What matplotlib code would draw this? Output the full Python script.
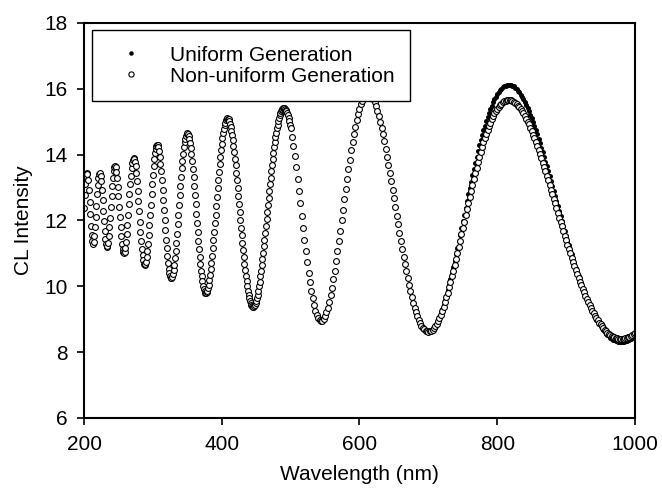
import numpy as np
import matplotlib
matplotlib.use("Agg")
import matplotlib.pyplot as plt

plt.rcParams['font.family'] = ['Liberation Sans', 'DejaVu Sans']

# wavelengths (nm): 1 nm steps where the fringes are narrow, 2 nm after that
wl_fine = np.arange(200, 501, 1)
wl_mid = np.arange(502, 701, 2)
wl_tail = np.arange(702, 1001, 2)

# CL intensity, 200-500 nm (both series overlap here)
cl_fine = [
    12.38, 12.78, 13.12, 13.35, 13.45, 13.40, 13.22, 12.93, 12.57, 12.19,
    11.84, 11.55, 11.37, 11.30, 11.36, 11.52, 11.79, 12.11, 12.45, 12.79,
    13.08, 13.30, 13.42, 13.45, 13.36, 13.19, 12.93, 12.63, 12.29, 11.97,
    11.68, 11.44, 11.28, 11.20, 11.22, 11.33, 11.52, 11.79, 12.09, 12.42,
    12.74, 13.04, 13.30, 13.49, 13.61, 13.65, 13.61, 13.48, 13.28, 13.03,
    12.73, 12.42, 12.10, 11.79, 11.52, 11.29, 11.13, 11.03, 11.00, 11.05,
    11.17, 11.35, 11.59, 11.87, 12.18, 12.49, 12.81, 13.10, 13.36, 13.58,
    13.75, 13.85, 13.90, 13.88, 13.79, 13.64, 13.44, 13.19, 12.90, 12.59,
    12.28, 11.96, 11.66, 11.38, 11.14, 10.94, 10.79, 10.69, 10.65, 10.67,
    10.75, 10.88, 11.07, 11.30, 11.56, 11.86, 12.17, 12.48, 12.80, 13.11,
    13.39, 13.64, 13.86, 14.04, 14.18, 14.26, 14.30, 14.29, 14.22, 14.10,
    13.94, 13.73, 13.49, 13.22, 12.93, 12.63, 12.32, 12.00, 11.70, 11.42,
    11.15, 10.91, 10.70, 10.53, 10.40, 10.31, 10.26, 10.25, 10.29, 10.37,
    10.50, 10.66, 10.85, 11.08, 11.33, 11.60, 11.88, 12.18, 12.47, 12.77,
    13.05, 13.33, 13.59, 13.82, 14.03, 14.22, 14.37, 14.49, 14.58, 14.63,
    14.65, 14.63, 14.57, 14.48, 14.36, 14.20, 14.01, 13.80, 13.57, 13.32,
    13.05, 12.78, 12.50, 12.21, 11.93, 11.66, 11.39, 11.14, 10.89, 10.68,
    10.47, 10.30, 10.15, 10.02, 9.92, 9.85, 9.81, 9.80, 9.82, 9.87,
    9.94, 10.05, 10.18, 10.34, 10.52, 10.71, 10.93, 11.16, 11.41, 11.66,
    11.92, 12.18, 12.45, 12.71, 12.98, 13.23, 13.47, 13.71, 13.93, 14.14,
    14.32, 14.50, 14.65, 14.78, 14.89, 14.97, 15.04, 15.08, 15.10, 15.09,
    15.07, 15.01, 14.94, 14.85, 14.73, 14.59, 14.44, 14.27, 14.08, 13.88,
    13.67, 13.45, 13.22, 12.99, 12.75, 12.50, 12.26, 12.02, 11.78, 11.55,
    11.32, 11.10, 10.88, 10.68, 10.49, 10.31, 10.15, 10.00, 9.86, 9.74,
    9.64, 9.55, 9.48, 9.43, 9.40, 9.38, 9.38, 9.40, 9.44, 9.49,
    9.56, 9.65, 9.75, 9.87, 10.00, 10.14, 10.30, 10.46, 10.64, 10.82,
    11.01, 11.21, 11.41, 11.62, 11.83, 12.04, 12.26, 12.47, 12.68, 12.89,
    13.10, 13.30, 13.50, 13.69, 13.87, 14.05, 14.22, 14.38, 14.53, 14.67,
    14.80, 14.91, 15.02, 15.11, 15.19, 15.26, 15.32, 15.36, 15.40, 15.41,
    15.42, 15.41, 15.39, 15.36, 15.32, 15.26, 15.19, 15.11, 15.02, 14.91,
    14.80,
]

# 502-700 nm, still shared
cl_mid = [
    14.55, 14.27, 13.95, 13.61, 13.26, 12.90, 12.52, 12.15, 11.77, 11.41,
    11.06, 10.73, 10.41, 10.13, 9.86, 9.63, 9.43, 9.26, 9.13, 9.04,
    8.98, 8.95, 8.96, 9.01, 9.09, 9.21, 9.35, 9.53, 9.73, 9.96,
    10.21, 10.48, 10.77, 11.06, 11.37, 11.69, 12.00, 12.32, 12.64, 12.96,
    13.26, 13.56, 13.85, 14.13, 14.38, 14.62, 14.84, 15.05, 15.23, 15.39,
    15.53, 15.64, 15.73, 15.79, 15.83, 15.85, 15.84, 15.81, 15.76, 15.68,
    15.59, 15.47, 15.33, 15.18, 15.00, 14.82, 14.62, 14.40, 14.17, 13.94,
    13.70, 13.45, 13.19, 12.93, 12.67, 12.41, 12.15, 11.89, 11.63, 11.39,
    11.14, 10.90, 10.67, 10.45, 10.24, 10.03, 9.85, 9.67, 9.50, 9.35,
    9.21, 9.09, 8.98, 8.88, 8.80, 8.74, 8.69, 8.65, 8.63, 8.62,
]

# 702-1000 nm, where the two curves separate
cl_uniform_tail = [
    8.63, 8.65, 8.68, 8.74, 8.80, 8.88, 8.97, 9.07, 9.18, 9.30,
    9.43, 9.58, 9.72, 9.88, 10.05, 10.23, 10.41, 10.59, 10.78, 10.97,
    11.17, 11.37, 11.57, 11.78, 11.98, 12.18, 12.39, 12.59, 12.79, 12.99,
    13.18, 13.38, 13.57, 13.75, 13.93, 14.10, 14.28, 14.43, 14.59, 14.74,
    14.88, 15.02, 15.15, 15.27, 15.39, 15.49, 15.59, 15.68, 15.76, 15.84,
    15.90, 15.96, 16.00, 16.05, 16.08, 16.10, 16.11, 16.12, 16.12, 16.11,
    16.09, 16.07, 16.03, 15.99, 15.94, 15.89, 15.82, 15.75, 15.68, 15.60,
    15.51, 15.41, 15.32, 15.21, 15.11, 14.99, 14.87, 14.75, 14.62, 14.49,
    14.36, 14.21, 14.08, 13.93, 13.79, 13.65, 13.50, 13.34, 13.19, 13.05,
    12.89, 12.74, 12.59, 12.43, 12.28, 12.13, 11.98, 11.83, 11.68, 11.54,
    11.39, 11.25, 11.11, 10.97, 10.83, 10.70, 10.56, 10.43, 10.31, 10.18,
    10.07, 9.95, 9.84, 9.72, 9.62, 9.52, 9.42, 9.33, 9.24, 9.15,
    9.07, 8.99, 8.92, 8.85, 8.78, 8.72, 8.66, 8.61, 8.56, 8.52,
    8.48, 8.44, 8.41, 8.38, 8.36, 8.34, 8.33, 8.32, 8.31, 8.31,
    8.31, 8.32, 8.33, 8.34, 8.36, 8.38, 8.40, 8.43, 8.46, 8.50,
]

cl_nonuniform_tail = [
    8.63, 8.65, 8.68, 8.73, 8.79, 8.86, 8.94, 9.04, 9.14, 9.26,
    9.38, 9.52, 9.66, 9.81, 9.97, 10.13, 10.30, 10.46, 10.65, 10.83,
    11.01, 11.20, 11.39, 11.58, 11.77, 11.96, 12.16, 12.34, 12.53, 12.72,
    12.90, 13.09, 13.26, 13.44, 13.60, 13.77, 13.93, 14.08, 14.22, 14.37,
    14.50, 14.63, 14.75, 14.86, 14.97, 15.07, 15.16, 15.25, 15.32, 15.39,
    15.45, 15.51, 15.55, 15.59, 15.62, 15.64, 15.65, 15.66, 15.66, 15.65,
    15.64, 15.61, 15.58, 15.54, 15.49, 15.44, 15.38, 15.32, 15.25, 15.17,
    15.09, 15.00, 14.92, 14.82, 14.72, 14.61, 14.50, 14.38, 14.27, 14.14,
    14.02, 13.89, 13.76, 13.63, 13.50, 13.36, 13.22, 13.08, 12.94, 12.80,
    12.66, 12.52, 12.38, 12.23, 12.09, 11.95, 11.82, 11.67, 11.54, 11.40,
    11.26, 11.13, 11.00, 10.87, 10.74, 10.62, 10.49, 10.38, 10.26, 10.14,
    10.03, 9.92, 9.82, 9.71, 9.62, 9.53, 9.43, 9.34, 9.26, 9.18,
    9.10, 9.03, 8.97, 8.90, 8.84, 8.78, 8.73, 8.68, 8.64, 8.59,
    8.56, 8.52, 8.49, 8.47, 8.45, 8.43, 8.42, 8.41, 8.40, 8.40,
    8.40, 8.41, 8.42, 8.43, 8.45, 8.46, 8.49, 8.51, 8.54, 8.57,
]

wavelength = np.concatenate([wl_fine, wl_mid, wl_tail])
uniform = np.array(cl_fine + cl_mid + cl_uniform_tail)
nonuniform = np.array(cl_fine + cl_mid + cl_nonuniform_tail)

fig = plt.figure(figsize=(6.62, 4.96), dpi=100)
ax = fig.add_axes([0.1269, 0.1573, 0.8323, 0.7964])

ax.plot(wavelength, uniform, 'o', color='black', ms=3.6, mew=0,
        label="Uniform Generation")
ax.plot(wavelength, nonuniform, 'o', mfc='white', mec='black', ms=4.2, mew=0.8,
        label="Non-uniform Generation")

ax.set_xlim(200, 1000)
ax.set_ylim(6, 18)
ax.set_xticks([200, 400, 600, 800, 1000])
ax.set_yticks([6, 8, 10, 12, 14, 16, 18])
ax.tick_params(direction='out', length=5, width=1.2, labelsize=15, pad=7)
for s in ax.spines.values():
    s.set_linewidth(1.5)

ax.set_xlabel("Wavelength (nm)", fontsize=15, labelpad=8)
ax.set_ylabel("CL Intensity", fontsize=15, labelpad=8)

leg = ax.legend(loc='upper left', bbox_to_anchor=(0.014, 0.982), borderaxespad=0,
                fontsize=15, fancybox=False, edgecolor='black', framealpha=1,
                borderpad=0.75, handlelength=2.3, handletextpad=0.7, labelspacing=0.1,
                markerscale=0.9)
leg.get_frame().set_linewidth(1.0)

plt.savefig("out.png", dpi=100)
